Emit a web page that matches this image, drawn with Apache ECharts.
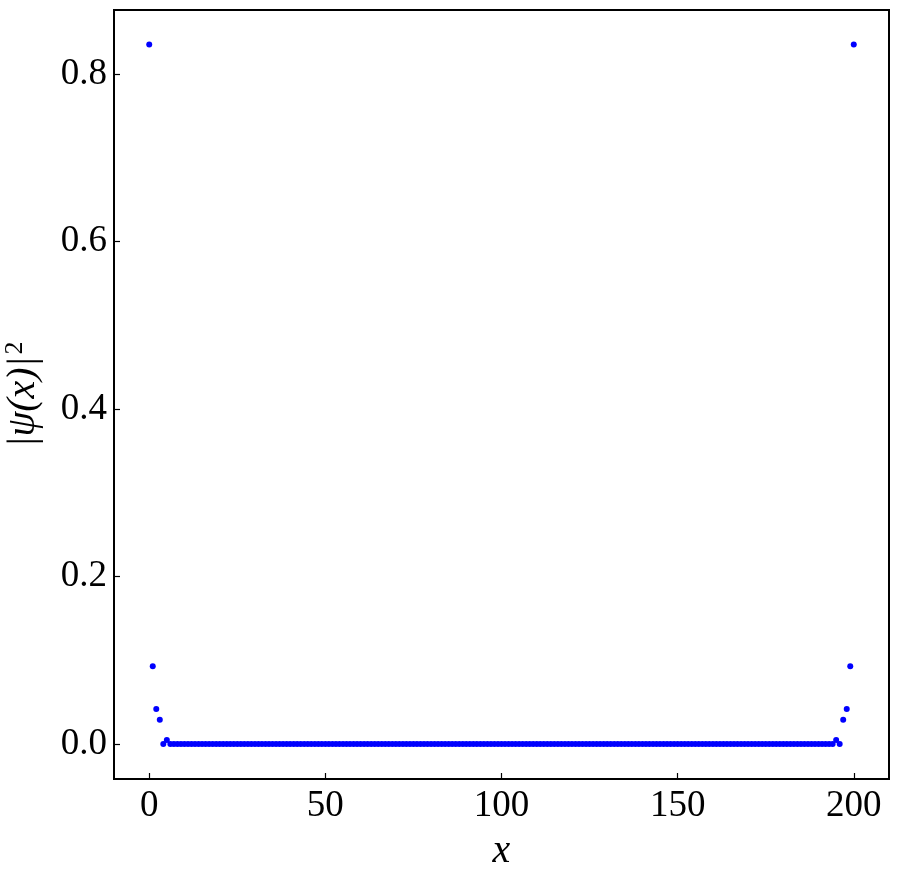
<!DOCTYPE html>
<html>
<head>
<meta charset="utf-8">
<script src="https://cdn.jsdelivr.net/npm/echarts@6/dist/echarts.min.js"></script>
<style>
html,body{margin:0;padding:0;background:#fff;}
#chart{width:898px;height:874px;}
</style>
</head>
<body>
<div id="chart"></div>
<script>
// |psi(x)|^2 for x = 0..200
const psi2 = [
  0.835, 0.093, 0.042, 0.029, 0.0, 0.005,
  0,0,0,0,0,0,0,0,0,0,0,0,0,0,0,0,0,0,0,0,0,
  0,0,0,0,0,0,0,0,0,0,0,0,0,0,0,0,0,0,0,0,0,
  0,0,0,0,0,0,0,0,0,0,0,0,0,0,0,0,0,0,0,0,0,
  0,0,0,0,0,0,0,0,0,0,0,0,0,0,0,0,0,0,0,0,0,
  0,0,0,0,0,0,0,0,0,0,0,0,0,0,0,0,0,0,0,0,0,
  0,0,0,0,0,0,0,0,0,0,0,0,0,0,0,0,0,0,0,0,0,
  0,0,0,0,0,0,0,0,0,0,0,0,0,0,0,0,0,0,0,0,0,
  0,0,0,0,0,0,0,0,0,0,0,0,0,0,0,0,0,0,0,0,0,
  0,0,0,0,0,0,0,0,0,0,0,0,0,0,0,0,0,0,0,0,0,
  0.005, 0.0, 0.029, 0.042, 0.093, 0.835
];
const xTicks = [0, 50, 100, 150, 200];
const yTicks = [0, 0.2, 0.4, 0.6, 0.8];
const xLabel = 'x';
const yLabelMain = '|ψ(x)|';
const yLabelSup = '2';

const points = psi2.map((v, i) => [i, v]);
const FONT = '"Liberation Serif", "DejaVu Serif", serif';

const chart = echarts.init(document.getElementById('chart'), null, {renderer: 'canvas'});
chart.setOption({
  animation: false,
  backgroundColor: '#fff',
  grid: {left: 114, right: 9, top: 10, bottom: 95, containLabel: false, outerBoundsMode: 'none',
         show: true, borderColor: '#000', borderWidth: 2, backgroundColor: 'transparent'},
  xAxis: {
    type: 'value', min: -10, max: 210,
    splitLine: {show: false},
    axisLine: {show: true, onZero: false, lineStyle: {color: '#000', width: 2}},
    axisTick: {show: true, inside: true, length: 6, lineStyle: {color: '#000', width: 1.2}, customValues: xTicks},
    axisLabel: {customValues: xTicks, color: '#000', fontFamily: FONT, fontSize: 37, margin: 9, formatter: v => String(v)},
    name: xLabel, nameLocation: 'middle', nameGap: 52,
    nameTextStyle: {color: '#000', fontFamily: FONT, fontStyle: 'italic', fontSize: 40}
  },
  yAxis: {
    type: 'value', min: -0.0417, max: 0.8763,
    splitLine: {show: false},
    axisLine: {show: true, onZero: false, lineStyle: {color: '#000', width: 2}},
    axisTick: {show: true, inside: true, length: 6, lineStyle: {color: '#000', width: 1.2}, customValues: yTicks},
    axisLabel: {customValues: yTicks, color: '#000', fontFamily: FONT, fontSize: 37, margin: 7, formatter: v => v.toFixed(1)},
    name: '{m|' + yLabelMain + '}{s|' + yLabelSup + '}', nameLocation: 'middle', nameGap: 70, nameRotate: 90,
    nameTextStyle: {
      color: '#000', fontFamily: FONT, fontSize: 38,
      rich: {
        m: {fontFamily: FONT, fontStyle: 'italic', fontSize: 40, color: '#000'},
        s: {fontFamily: FONT, fontSize: 26, color: '#000', verticalAlign: 'top', padding: [0, 0, 16, 2]}
      }
    }
  },
  series: [{
    type: 'scatter',
    data: points,
    symbol: 'circle',
    symbolSize: 6,
    itemStyle: {color: '#0000ff', opacity: 1},
    silent: true
  }]
});
</script>
</body>
</html>
